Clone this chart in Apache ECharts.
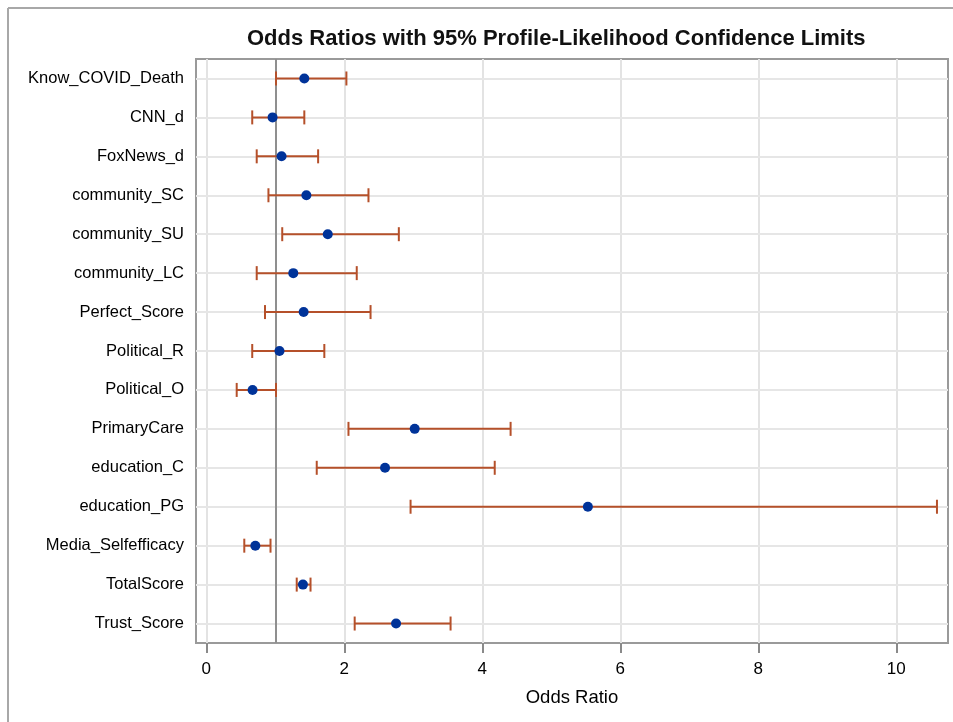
<!DOCTYPE html>
<html>
<head>
<meta charset="utf-8">
<script src="https://cdn.jsdelivr.net/npm/echarts@6/dist/echarts.min.js"></script>
<style>
html,body{margin:0;padding:0;background:#fff;}
#chart{width:953px;height:722px;}
</style>
</head>
<body>
<div id="chart"></div>
<script>
const categories = ['Know_COVID_Death','CNN_d','FoxNews_d','community_SC','community_SU','community_LC','Perfect_Score','Political_R','Political_O','PrimaryCare','education_C','education_PG','Media_Selfefficacy','TotalScore','Trust_Score'];
const oddsRatio = [1.42, 0.96, 1.09, 1.45, 1.76, 1.26, 1.41, 1.06, 0.67, 3.02, 2.59, 5.53, 0.71, 1.40, 2.75];
const lowerCL   = [1.01, 0.665, 0.73, 0.90, 1.10, 0.73, 0.85, 0.665, 0.44, 2.06, 1.60, 2.96, 0.55, 1.31, 2.15];
const upperCL   = [2.03, 1.42, 1.62, 2.35, 2.79, 2.18, 2.38, 1.71, 1.01, 4.41, 4.18, 10.59, 0.93, 1.51, 3.54];
const xTicks = [0, 2, 4, 6, 8, 10];
const referenceValue = 1;

const FONT = '"Liberation Sans", Arial, sans-serif';
const chart = echarts.init(document.getElementById('chart'), null, {renderer: 'canvas'});

const gridLineData = categories.map(c => ({yAxis: c, lineStyle: {color: '#e6e6e6', width: 2, type: 'solid'}}));
gridLineData.push({xAxis: referenceValue, lineStyle: {color: '#8f8f8f', width: 2, type: 'solid'}});

chart.setOption({
  animation: false,
  backgroundColor: '#ffffff',
  title: {
    text: 'Odds Ratios with 95% Profile-Likelihood Confidence Limits',
    left: 242, top: 23,
    textStyle: {fontFamily: FONT, fontSize: 22, fontWeight: 'bold', color: '#111'}
  },
  graphic: [
    {type: 'line', shape: {x1: 8, y1: 8, x2: 953, y2: 8}, style: {stroke: '#a8a8a8', lineWidth: 2}, silent: true},
    {type: 'line', shape: {x1: 8, y1: 8, x2: 8, y2: 722}, style: {stroke: '#a8a8a8', lineWidth: 2}, silent: true}
  ],
  grid: {left: 196, right: 5, top: 59, bottom: 79, show: true, borderColor: '#9a9a9a', borderWidth: 2},
  xAxis: {
    type: 'value', min: -0.15, max: 10.75,
    name: 'Odds Ratio', nameLocation: 'middle', nameGap: 45,
    nameTextStyle: {fontFamily: FONT, fontSize: 18.5, color: '#000'},
    axisLine: {show: false},
    axisTick: {show: true, length: 10, lineStyle: {color: '#8a8a8a', width: 2}, customValues: xTicks},
    axisLabel: {fontFamily: FONT, fontSize: 17, color: '#000', margin: 18, customValues: xTicks},
    splitLine: {show: true, lineStyle: {color: '#e3e3e3', width: 2}}
  },
  yAxis: {
    type: 'category', data: categories, inverse: true,
    axisLine: {show: false}, axisTick: {show: false}, splitLine: {show: false},
    axisLabel: {fontFamily: FONT, fontSize: 16.5, color: '#000', margin: 12}
  },
  series: [
    {
      type: 'custom',
      z: 3,
      data: categories.map((c, i) => [lowerCL[i], upperCL[i], i]),
      encode: {x: [0, 1], y: 2},
      renderItem: function (params, api) {
        const p1 = api.coord([api.value(0), api.value(2)]);
        const p2 = api.coord([api.value(1), api.value(2)]);
        const h = 7;
        const st = {stroke: '#b5502a', lineWidth: 2};
        return {
          type: 'group',
          children: [
            {type: 'line', shape: {x1: p1[0], y1: p1[1], x2: p2[0], y2: p2[1]}, style: st},
            {type: 'line', shape: {x1: p1[0], y1: p1[1] - h, x2: p1[0], y2: p1[1] + h}, style: st},
            {type: 'line', shape: {x1: p2[0], y1: p2[1] - h, x2: p2[0], y2: p2[1] + h}, style: st}
          ]
        };
      }
    },
    {
      type: 'scatter',
      z: 4,
      symbol: 'circle',
      symbolSize: 10,
      itemStyle: {color: '#003399', opacity: 1},
      data: oddsRatio.map((v, i) => [v, i]),
      markLine: {
        z: 1,
        silent: true,
        symbol: ['none', 'none'],
        label: {show: false},
        data: gridLineData
      }
    }
  ]
});
</script>
</body>
</html>
